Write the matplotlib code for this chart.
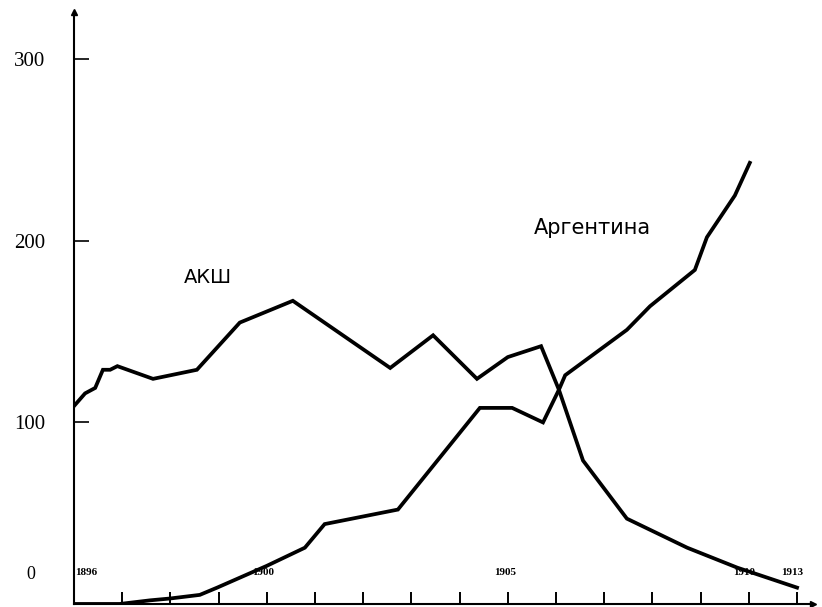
import matplotlib
matplotlib.use('Agg')
import matplotlib.pyplot as plt

# values
usa_years = [1896.0, 1896.23, 1896.44, 1896.6, 1896.75, 1896.9, 1897.64, 1898.55,
             1899.44, 1900.54, 1902.56, 1903.45, 1904.36, 1905.0, 1905.69, 1906.06,
             1906.56, 1907.47, 1908.72, 1909.76, 1911.0]
usa_vals = [109, 116, 119, 129, 129, 131, 124, 129, 155, 167, 130, 148, 124, 136,
            142, 118, 79, 47, 31, 20, 9]

arg_years = [1896.0, 1896.95, 1897.58, 1897.99, 1898.61, 1898.97, 1900.0, 1900.79,
             1901.2, 1902.72, 1904.42, 1905.09, 1905.73, 1906.06, 1906.19, 1907.47,
             1907.95, 1908.88, 1909.13, 1909.71, 1910.02]
arg_vals = [0, 0, 2, 3, 5, 9, 21, 31, 44, 52, 108, 108, 100, 118, 126, 151, 164,
            184, 202, 225, 243]

ytick_vals = [100, 200, 300]
ytick_labels = ['100', '200', '300']
year_labels = ['1896', '1900', '1905', '1910', '1913']
year_label_pos = [1896.25, 1899.92, 1904.95, 1909.9, 1910.9]

fig = plt.figure(figsize=(8.22, 6.07), dpi=100)
ax = fig.add_axes([0.090, 0.005, 0.899, 0.975])

ax.plot(usa_years, usa_vals, color='black', lw=2.7, solid_joinstyle='miter')
ax.plot(arg_years, arg_vals, color='black', lw=2.7, solid_joinstyle='miter')

ax.set_xlim(1896, 1911.33)
ax.set_ylim(0, 326)

for s in ['top', 'right']:
    ax.spines[s].set_visible(False)
for s in ['left', 'bottom']:
    ax.spines[s].set_linewidth(1.5)

ax.set_xticks(range(1897, 1912))
ax.set_xticklabels([])
ax.tick_params(axis='x', direction='in', length=9, width=1.4)

ax.set_yticks(ytick_vals)
ax.set_yticklabels(ytick_labels, fontfamily='Liberation Serif', fontsize=15)
ax.tick_params(axis='y', direction='in', length=11, width=1.2, pad=21)

# arrow heads
ax.plot(0, 1, marker='^', color='black', markersize=5, transform=ax.transAxes, clip_on=False)
ax.plot(1, 0, marker='>', color='black', markersize=5, transform=ax.transAxes, clip_on=False)

# zero and year labels sit just above the x axis
ax.text(-0.058, 16, '0', transform=ax.get_yaxis_transform(), ha='center', va='center',
        fontfamily='Liberation Serif', fontsize=13)
for lab, x in zip(year_labels, year_label_pos):
    ax.text(x, 17.6, lab, ha='center', va='center', fontfamily='Liberation Serif',
            fontsize=8, fontweight='bold')

ax.text(1898.78, 180, 'АКШ', ha='center', va='center', fontfamily='DejaVu Sans', fontsize=14)
ax.text(1906.75, 207, 'Аргентина', ha='center', va='center', fontfamily='DejaVu Sans', fontsize=15)

fig.savefig('out.png', dpi=100)
